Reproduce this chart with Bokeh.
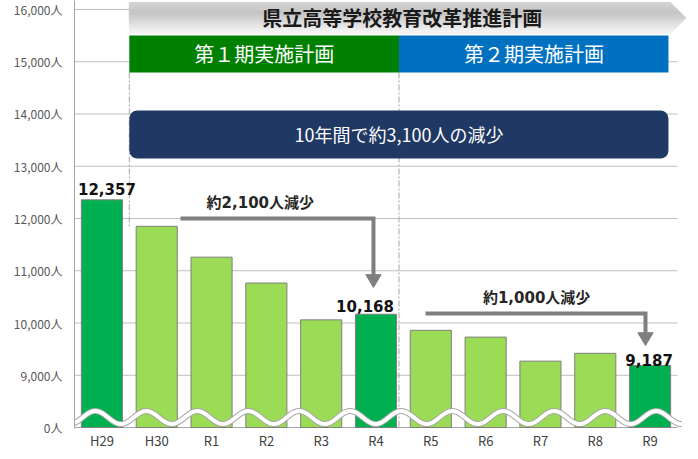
import numpy as np
from bokeh.plotting import figure
from bokeh.models import Range1d, FixedTicker, BoxAnnotation, Label, ColumnDataSource
from bokeh.core.properties import value
from bokeh.embed import file_html
from bokeh.resources import INLINE

# ---------------- data ----------------
years = ["H29", "H30", "R1", "R2", "R3", "R4", "R5", "R6", "R7", "R8", "R9"]
students = [12357, 11850, 11260, 10765, 10060, 10168, 9860, 9730, 9270, 9420, 9187]
highlight = [True, False, False, False, False, True, False, False, False, False, True]
y_ticks = [8000, 9000, 10000, 11000, 12000, 13000, 14000, 15000, 16000]
y_tick_labels = ["0人", "9,000人", "10,000人", "11,000人", "12,000人",
                 "13,000人", "14,000人", "15,000人", "16,000人"]
plan_title = "県立高等学校教育改革推進計画"
phase_labels = ["第１期実施計画", "第２期実施計画"]
summary_text = "10年間で約3,100人の減少"
decrease_labels = ["約2,100人減少", "約1,000人減少"]

# ---------------- styles ----------------
DARK = "#00B050"
LIGHT = "#9BDB55"
JP = "Noto Sans CJK JP"
MIX = "DejaVu Sans, Noto Sans CJK JP"
GRID = "#BFBFBF"
AXIS = "#A6A6A6"
ARROW = "#7F7F7F"

X0, X1 = -0.5, 10.5          # category area
X_EXT = X1 + 13 / 54.82      # small extra room on the right for the banner tip
Y_LO, Y_HI = 7981, 16172

p = figure(frame_width=616, frame_height=428,
           x_range=Range1d(X0, X_EXT), y_range=Range1d(Y_LO, Y_HI),
           output_backend="svg", toolbar_location=None,
           min_border_left=74, min_border_right=4, min_border_top=0, min_border_bottom=28)
p.outline_line_color = None
p.background_fill_color = "white"
p.border_fill_color = "white"

# axes
p.xaxis.ticker = FixedTicker(ticks=list(range(len(years))))
p.xaxis.major_label_overrides = {i: y for i, y in enumerate(years)}
p.xaxis.major_tick_line_color = None
p.xaxis.major_tick_out = 0
p.xaxis.major_tick_in = 0
p.xaxis.minor_tick_line_color = None
p.xaxis.minor_tick_out = 0
p.xaxis.axis_line_color = None
p.xaxis.major_label_text_font = JP
p.xaxis.major_label_text_font_size = "13px"
p.xaxis.major_label_text_color = "#404040"
p.xaxis.major_label_standoff = 2

p.yaxis.ticker = FixedTicker(ticks=y_ticks)
p.yaxis.major_label_overrides = {t: l for t, l in zip(y_ticks, y_tick_labels)}
p.yaxis.major_tick_line_color = None
p.yaxis.major_tick_out = 0
p.yaxis.major_tick_in = 0
p.yaxis.minor_tick_line_color = None
p.yaxis.minor_tick_out = 0
p.yaxis.axis_line_color = AXIS
p.yaxis.major_label_text_font = JP
p.yaxis.major_label_text_font_size = "12px"
p.yaxis.major_label_text_color = "#595959"
p.yaxis.major_label_standoff = 12

p.xgrid.visible = False
p.ygrid.visible = False

# grid lines and base line limited to the category area
p.segment(x0=X0, x1=X1, y0=y_ticks[1:], y1=y_ticks[1:], line_color=GRID, line_width=1)
p.segment(x0=X0, x1=X1, y0=y_ticks[0], y1=y_ticks[0], line_color=AXIS, line_width=1)

# top chevron banner (vertical gradient bands)
cx0, cx1, cxt = 0.5, 10.37, 10.65
cy_top, cy_bot = 16134, 15541
cy_mid = (cy_top + cy_bot) / 2
half = (cy_top - cy_bot) / 2
nb = 14
edges = np.linspace(cy_top, cy_bot, nb + 1)


def xr(yv):
    return cx1 + (cxt - cx1) * (1 - abs(yv - cy_mid) / half)


def shade(t):
    if t < 0.35:
        g = 212 + (196 - 212) * t / 0.35
    else:
        g = 196 + (246 - 196) * (t - 0.35) / 0.65
    g = int(round(g))
    return "#%02x%02x%02x" % (g, g, g)


bx, by, bc = [], [], []
for i in range(nb):
    ya, yb = edges[i], edges[i + 1]
    xs_ = [cx0, xr(ya)]
    ys_ = [ya, ya]
    if ya > cy_mid > yb:
        xs_.append(cxt)
        ys_.append(cy_mid)
    xs_ += [xr(yb), cx0]
    ys_ += [yb, yb]
    bx.append(xs_)
    by.append(ys_)
    bc.append(shade((i + 0.5) / nb))
p.patches(bx, by, fill_color=bc, line_color=bc, line_width=1)

# dashed phase separators
p.line([0.5, 0.5], [14795, 11847], line_color=AXIS, line_width=1, line_dash="6 2 2 2")
p.line([5.42, 5.42], [14795, 8000], line_color=AXIS, line_width=1, line_dash="6 2 2 2")

# bars
src = ColumnDataSource(dict(x=list(range(len(years))), top=students,
                            color=[DARK if h else LIGHT for h in highlight]))
p.vbar(x="x", top="top", bottom=y_ticks[0], width=0.75, fill_color="color",
       line_color="#7F7F7F", line_width=1, source=src)

# value labels on highlighted bars
label_offsets = {0: (5, -11), 5: (-11, -8), 10: (-1, -5)}
idx = [i for i, h in enumerate(highlight) if h]
p.text(x=idx, y=[students[i] for i in idx], text=[f"{students[i]:,}" for i in idx],
       x_offset=[label_offsets[i][0] for i in idx], y_offset=[label_offsets[i][1] for i in idx],
       text_font=value("DejaVu Sans"), text_font_style="bold", text_font_size="15px",
       text_align="center", text_baseline="alphabetic", text_color="#111111")

# decrease arrows
arrows = [((1.434, 12000), 4.954, students[5] + 512),
          ((5.903, 10182), 9.916, students[10] + 382)]
for (xs0, yh), xe, tip in arrows:
    p.line([xs0, xe, xe], [yh, yh, tip + 200], line_color=ARROW, line_width=4,
           line_join="miter", line_cap="butt")
    p.patch([xe - 0.14, xe + 0.14, xe], [tip + 245, tip + 245, tip],
            fill_color=ARROW, line_color=ARROW)

p.text(x=[2.89, 7.93], y=[12306, 10469], text=decrease_labels,
       text_font=value(MIX), text_font_style="bold", text_font_size="15px",
       text_align="center", text_baseline="middle", text_color="#262626")

# break wave
wx = np.linspace(-0.62, 10.58, 700)
wy = 8191 + 124 * np.cos(2 * np.pi * (wx + 0.12) / 0.93)
p.line(wx, wy, line_color=AXIS, line_width=6)
p.line(wx, wy, line_color="white", line_width=4)

# phase banners and summary box
p.add_layout(BoxAnnotation(left=0.5, right=5.42, top=15503, bottom=14795,
                           fill_color="#008000", fill_alpha=1, line_color=None))
p.add_layout(BoxAnnotation(left=5.42, right=10.335, top=15503, bottom=14795,
                           fill_color="#0070C0", fill_alpha=1, line_color=None))
p.add_layout(BoxAnnotation(left=0.5, right=10.335, top=14067, bottom=13148,
                           fill_color="#203864", fill_alpha=1, line_color=None,
                           border_radius=8))

p.add_layout(Label(x=5.48, y=15847, text=plan_title, text_font=JP, text_font_size="20px",
                   text_font_style="bold", text_align="center", text_baseline="middle",
                   text_color="#1A1A1A"))
for xc, t in zip([2.96, 7.88], phase_labels):
    p.add_layout(Label(x=xc, y=15149, text=t, text_font=JP, text_font_size="20px",
                       text_align="center", text_baseline="middle", text_color="white"))
p.add_layout(Label(x=5.42, y=13608, text=summary_text, text_font=JP, text_font_size="18px",
                   text_align="center", text_baseline="middle", text_color="white"))

open("out.html", "w").write(file_html(p, INLINE))
